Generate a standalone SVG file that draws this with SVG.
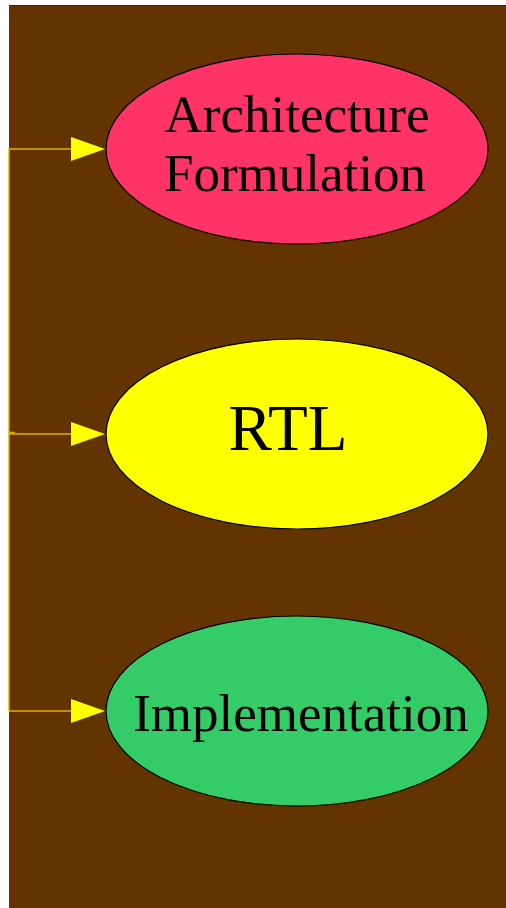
<svg xmlns="http://www.w3.org/2000/svg" width="506" height="908" viewBox="0 0 506 908">
<style>
.node ellipse{stroke:#000;stroke-width:1.2}
.lbl{font-family:"Liberation Serif","Times New Roman",serif;fill:#000;text-anchor:middle}
.edge{stroke:#e0b000;stroke-width:1.5;fill:none}
.head{fill:#ffff00;stroke:none}
</style>
<rect x="0" y="0" width="506" height="908" fill="#ffffff"/>
<rect x="9" y="5" width="497" height="903" fill="#633300"/>
<line x1="9" y1="5.5" x2="506" y2="5.5" stroke="#3a2a1a" stroke-width="1.2"/>
<g id="connectors">
<line class="edge" x1="9" y1="148" x2="9" y2="711"/>
<line class="edge" x1="9" y1="149" x2="72" y2="149"/>
<polygon class="head" points="71,137 105,149 71,161"/>
<line class="edge" x1="9" y1="434" x2="72" y2="434"/>
<line class="edge" x1="9" y1="432.5" x2="15" y2="432.5" stroke-width="1"/>
<polygon class="head" points="71,422 105,434 71,446"/>
<line class="edge" x1="9" y1="711" x2="72" y2="711"/>
<polygon class="head" points="71,699 105,711 71,723"/>
</g>
<g id="node-architecture" class="node">
<ellipse cx="297" cy="149" rx="191" ry="95" fill="#ff3366"/>
<text class="lbl" x="297" y="132" font-size="53">Architecture</text>
<text class="lbl" x="295" y="191" font-size="53">Formulation</text>
</g>
<g id="node-rtl" class="node">
<ellipse cx="297" cy="434" rx="191" ry="95" fill="#ffff00"/>
<text class="lbl" x="288" y="450" font-size="65">RTL</text>
</g>
<g id="node-implementation" class="node">
<ellipse cx="297" cy="711" rx="191" ry="95" fill="#33cc66"/>
<text class="lbl" x="301" y="731" font-size="53">Implementation</text>
</g>
</svg>
